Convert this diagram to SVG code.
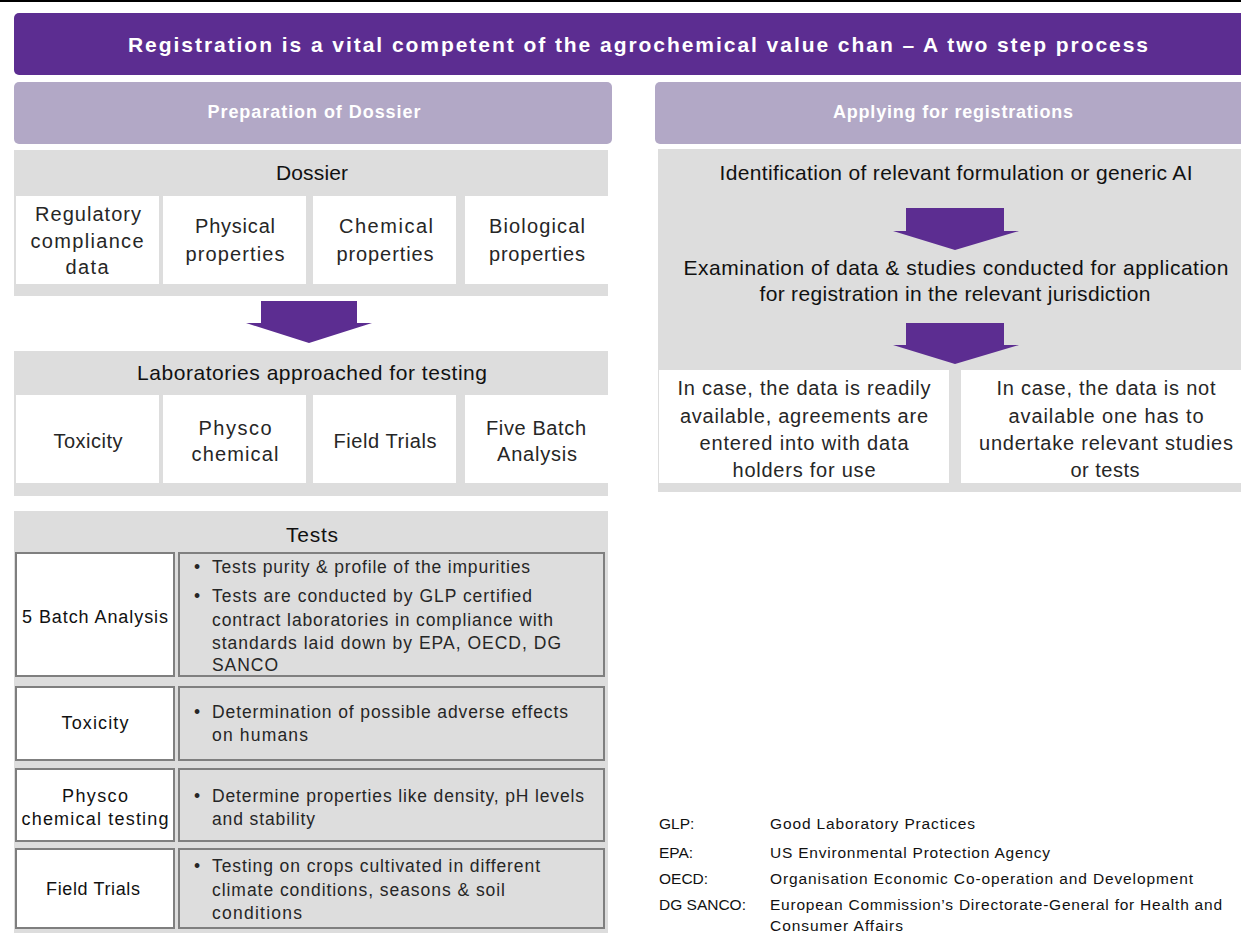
<svg xmlns="http://www.w3.org/2000/svg" width="1241" height="933" viewBox="0 0 1241 933">
  <style>
    text { font-family: "Liberation Sans", Arial, sans-serif; }
    .title { font-size: 21px; font-weight: bold; fill: #ffffff; }
    .head { font-size: 18px; font-weight: bold; fill: #ffffff; }
    .panel { fill: #dddddd; }
    .cell { fill: #ffffff; }
    .ph { font-size: 21px; fill: #111111; }
    .ct { font-size: 20px; fill: #262626; }
    .lbox { fill: #ffffff; stroke: #7f7f7f; stroke-width: 2; }
    .rbox { fill: #dddddd; stroke: #7f7f7f; stroke-width: 2; }
    .lt { font-size: 18px; fill: #111111; }
    .bt { font-size: 17.5px; fill: #262626; }
    .lg { font-size: 15.5px; fill: #111111; }
    .arrow { fill: #5c2d91; }
  </style>

  <!-- rule at the top edge -->
  <line x1="0" y1="1" x2="1241" y2="1" stroke="#000000" stroke-width="2"/>

  <!-- banner -->
  <g id="title">
    <rect x="14" y="13" width="1240" height="62" rx="5" fill="#5c2d91"/>
    <text class="title" x="638" y="52" text-anchor="middle" textLength="1020" lengthAdjust="spacing">Registration is a vital competent of the agrochemical value chan – A two step process</text>
  </g>

  <!-- step headers -->
  <g id="step-preparation">
    <rect x="14" y="82" width="598" height="62" rx="5" fill="#b2a8c6"/>
    <text class="head" x="314" y="118" text-anchor="middle" textLength="213" lengthAdjust="spacing">Preparation of Dossier</text>
  </g>
  <g id="step-applying">
    <rect x="655" y="82" width="600" height="62" rx="5" fill="#b2a8c6"/>
    <text class="head" x="953" y="118" text-anchor="middle" textLength="240" lengthAdjust="spacing">Applying for registrations</text>
  </g>

  <!-- Dossier panel -->
  <g id="dossier">
    <rect class="panel" x="14" y="150" width="594" height="146"/>
    <text class="ph" x="312" y="180" text-anchor="middle" textLength="72" lengthAdjust="spacing">Dossier</text>
    <rect class="cell" x="16" y="196" width="143" height="88"/>
    <rect class="cell" x="163" y="196" width="143" height="88"/>
    <rect class="cell" x="313" y="196" width="143" height="88"/>
    <rect class="cell" x="465" y="196" width="143" height="88"/>
    <text class="ct" x="88" y="221" text-anchor="middle" textLength="106" lengthAdjust="spacing">Regulatory</text>
    <text class="ct" x="87" y="248" text-anchor="middle" textLength="113" lengthAdjust="spacing">compliance</text>
    <text class="ct" x="87" y="274" text-anchor="middle" textLength="43" lengthAdjust="spacing">data</text>
    <text class="ct" x="235" y="233" text-anchor="middle" textLength="80" lengthAdjust="spacing">Physical</text>
    <text class="ct" x="235" y="261" text-anchor="middle" textLength="99" lengthAdjust="spacing">properties</text>
    <text class="ct" x="386" y="233" text-anchor="middle" textLength="94" lengthAdjust="spacing">Chemical</text>
    <text class="ct" x="385" y="261" text-anchor="middle" textLength="97" lengthAdjust="spacing">properties</text>
    <text class="ct" x="537" y="233" text-anchor="middle" textLength="96" lengthAdjust="spacing">Biological</text>
    <text class="ct" x="537" y="261" text-anchor="middle" textLength="96" lengthAdjust="spacing">properties</text>
  </g>

  <!-- Laboratories panel -->
  <g id="laboratories">
    <rect class="panel" x="14" y="351" width="594" height="145"/>
    <text class="ph" x="312" y="380" text-anchor="middle" textLength="350" lengthAdjust="spacing">Laboratories approached for testing</text>
    <rect class="cell" x="16" y="395" width="143" height="88"/>
    <rect class="cell" x="163" y="395" width="143" height="88"/>
    <rect class="cell" x="313" y="395" width="143" height="88"/>
    <rect class="cell" x="465" y="395" width="143" height="88"/>
    <text class="ct" x="88" y="448" text-anchor="middle" textLength="69" lengthAdjust="spacing">Toxicity</text>
    <text class="ct" x="235" y="435" text-anchor="middle" textLength="73" lengthAdjust="spacing">Physco</text>
    <text class="ct" x="235" y="461" text-anchor="middle" textLength="87" lengthAdjust="spacing">chemical</text>
    <text class="ct" x="385" y="448" text-anchor="middle" textLength="103" lengthAdjust="spacing">Field Trials</text>
    <text class="ct" x="536" y="435" text-anchor="middle" textLength="100" lengthAdjust="spacing">Five Batch</text>
    <text class="ct" x="537" y="461" text-anchor="middle" textLength="80" lengthAdjust="spacing">Analysis</text>
  </g>

  <!-- Tests table -->
  <g id="tests">
    <rect class="panel" x="14" y="511" width="594" height="422"/>
    <text class="ph" x="312" y="542" text-anchor="middle" textLength="52" lengthAdjust="spacing">Tests</text>
  </g>
  <g id="test-batch">
    <rect class="lbox" x="16" y="553" width="158" height="123"/>
    <rect class="rbox" x="179" y="553" width="425" height="123"/>
    <text class="lt" x="95" y="623" text-anchor="middle" textLength="146" lengthAdjust="spacing">5 Batch Analysis</text>
    <text class="bt" x="194" y="573">•</text>
    <text class="bt" x="212" y="573" textLength="318" lengthAdjust="spacing">Tests purity &amp; profile of the impurities</text>
    <text class="bt" x="194" y="602">•</text>
    <text class="bt" x="212" y="602" textLength="320" lengthAdjust="spacing">Tests are conducted by GLP certified</text>
    <text class="bt" x="212" y="626" textLength="341" lengthAdjust="spacing">contract laboratories in compliance with</text>
    <text class="bt" x="212" y="649" textLength="349" lengthAdjust="spacing">standards laid down by EPA, OECD, DG</text>
    <text class="bt" x="212" y="671" textLength="66" lengthAdjust="spacing">SANCO</text>
  </g>
  <g id="test-toxicity">
    <rect class="lbox" x="16" y="687" width="158" height="73"/>
    <rect class="rbox" x="179" y="687" width="425" height="73"/>
    <text class="lt" x="95" y="729" text-anchor="middle" textLength="67" lengthAdjust="spacing">Toxicity</text>
    <text class="bt" x="194" y="718">•</text>
    <text class="bt" x="212" y="718" textLength="356" lengthAdjust="spacing">Determination of possible adverse effects</text>
    <text class="bt" x="212" y="741" textLength="96" lengthAdjust="spacing">on humans</text>
  </g>
  <g id="test-physico">
    <rect class="lbox" x="16" y="769" width="158" height="72"/>
    <rect class="rbox" x="179" y="769" width="425" height="72"/>
    <text class="lt" x="95" y="802" text-anchor="middle" textLength="66" lengthAdjust="spacing">Physco</text>
    <text class="lt" x="95" y="825" text-anchor="middle" textLength="147" lengthAdjust="spacing">chemical testing</text>
    <text class="bt" x="194" y="802">•</text>
    <text class="bt" x="212" y="802" textLength="372" lengthAdjust="spacing">Determine properties like density, pH levels</text>
    <text class="bt" x="212" y="825" textLength="103" lengthAdjust="spacing">and stability</text>
  </g>
  <g id="test-field">
    <rect class="lbox" x="16" y="849" width="158" height="79"/>
    <rect class="rbox" x="179" y="849" width="425" height="79"/>
    <text class="lt" x="93" y="895" text-anchor="middle" textLength="94" lengthAdjust="spacing">Field Trials</text>
    <text class="bt" x="194" y="872">•</text>
    <text class="bt" x="212" y="872" textLength="328" lengthAdjust="spacing">Testing on crops cultivated in different</text>
    <text class="bt" x="212" y="896" textLength="293" lengthAdjust="spacing">climate conditions, seasons &amp; soil</text>
    <text class="bt" x="212" y="919" textLength="90" lengthAdjust="spacing">conditions</text>
  </g>

  <!-- Application panel -->
  <g id="application">
    <rect class="panel" x="658" y="149" width="583" height="343"/>
    <text class="ph" x="956" y="180" text-anchor="middle" textLength="473" lengthAdjust="spacing">Identification of relevant formulation or generic AI</text>
    <text class="ph" x="956" y="275" text-anchor="middle" textLength="545" lengthAdjust="spacing">Examination of data &amp; studies conducted for application</text>
    <text class="ph" x="955" y="301" text-anchor="middle" textLength="391" lengthAdjust="spacing">for registration in the relevant jurisdiction</text>
  </g>
  <g id="case-available">
    <rect class="cell" x="659" y="370" width="290" height="113"/>
    <text class="ct" x="804" y="395" text-anchor="middle" textLength="253" lengthAdjust="spacing">In case, the data is readily</text>
    <text class="ct" x="804" y="423" text-anchor="middle" textLength="248" lengthAdjust="spacing">available, agreements are</text>
    <text class="ct" x="804" y="450" text-anchor="middle" textLength="209" lengthAdjust="spacing">entered into with data</text>
    <text class="ct" x="804" y="477" text-anchor="middle" textLength="143" lengthAdjust="spacing">holders for use</text>
  </g>
  <g id="case-unavailable">
    <rect class="cell" x="961" y="370" width="280" height="113"/>
    <text class="ct" x="1106" y="395" text-anchor="middle" textLength="219" lengthAdjust="spacing">In case, the data is not</text>
    <text class="ct" x="1106" y="423" text-anchor="middle" textLength="195" lengthAdjust="spacing">available one has to</text>
    <text class="ct" x="1106" y="450" text-anchor="middle" textLength="254" lengthAdjust="spacing">undertake relevant studies</text>
    <text class="ct" x="1105" y="477" text-anchor="middle" textLength="69" lengthAdjust="spacing">or tests</text>
  </g>

  <!-- block arrows between stages -->
  <g id="connectors">
    <polygon class="arrow" points="261,301 357,301 357,323 372,323 309,343 246,323 261,323"/>
    <polygon class="arrow" points="906,208 1004,208 1004,231 1019,231 955,250 893,231 906,231"/>
    <polygon class="arrow" points="906,323 1004,323 1004,345 1019,345 955,364 893,345 906,345"/>
  </g>

  <!-- abbreviations -->
  <g id="legend">
    <text class="lg" x="659" y="829">GLP:</text>
    <text class="lg" x="770" y="829" textLength="205" lengthAdjust="spacing">Good Laboratory Practices</text>
    <text class="lg" x="659" y="858">EPA:</text>
    <text class="lg" x="770" y="858" textLength="280" lengthAdjust="spacing">US Environmental Protection Agency</text>
    <text class="lg" x="659" y="884">OECD:</text>
    <text class="lg" x="770" y="884" textLength="423" lengthAdjust="spacing">Organisation Economic Co-operation and Development</text>
    <text class="lg" x="659" y="910">DG SANCO:</text>
    <text class="lg" x="770" y="910" textLength="452" lengthAdjust="spacing">European Commission’s Directorate-General for Health and</text>
    <text class="lg" x="770" y="931" textLength="133" lengthAdjust="spacing">Consumer Affairs</text>
  </g>
</svg>
